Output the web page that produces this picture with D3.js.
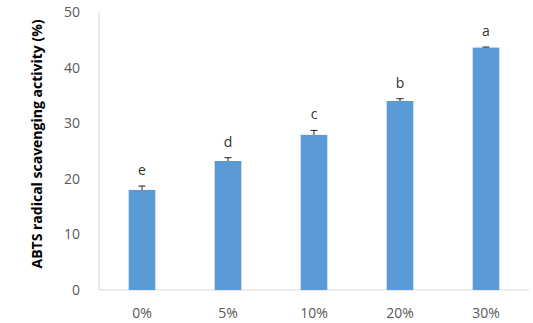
<!DOCTYPE html>
<html>
<head>
<meta charset="utf-8">
<script src="https://cdn.jsdelivr.net/npm/d3@7"></script>
<style>
  body { margin: 0; background: #fff; }
  text { font-family: "Open Sans", sans-serif; }
</style>
</head>
<body>
<div id="chart"></div>
<script>
var categories = ['0%', '5%', '10%', '20%', '30%'];
var values = [18.0, 23.2, 27.9, 34.0, 43.6];
var errors = [0.7, 0.6, 0.8, 0.4, 0.1];
var letters = ['e', 'd', 'c', 'b', 'a'];
var yTicks = [0, 10, 20, 30, 40, 50];

var width = 533, height = 323;
var margin = { top: 12, right: 4, bottom: 33, left: 99 };

var svg = d3.select('#chart').append('svg')
    .attr('width', width)
    .attr('height', height);

var x = d3.scaleBand()
    .domain(categories)
    .range([margin.left, width - margin.right])
    .paddingInner(0.69)
    .paddingOuter(0.345);

var y = d3.scaleLinear()
    .domain([0, 50])
    .range([height - margin.bottom, margin.top]);

// axis lines
svg.append('line')
    .attr('x1', margin.left).attr('x2', margin.left)
    .attr('y1', y(50)).attr('y2', y(0))
    .attr('stroke', '#d9d9d9').attr('stroke-width', 1);

svg.append('line')
    .attr('x1', margin.left).attr('x2', width - margin.right)
    .attr('y1', y(0)).attr('y2', y(0))
    .attr('stroke', '#d9d9d9').attr('stroke-width', 1);

// y tick labels
svg.selectAll('.ytick')
    .data(yTicks)
    .enter().append('text')
    .attr('class', 'ytick')
    .attr('x', 80)
    .attr('y', function(d) { return y(d); })
    .attr('dy', '0.35em')
    .attr('text-anchor', 'end')
    .style('font-size', '14px')
    .style('fill', '#595959')
    .text(function(d) { return d; });

// x tick labels
svg.selectAll('.xtick')
    .data(categories)
    .enter().append('text')
    .attr('class', 'xtick')
    .attr('x', function(d) { return x(d) + x.bandwidth() / 2; })
    .attr('y', y(0) + 23)
    .attr('dy', '0.35em')
    .attr('text-anchor', 'middle')
    .style('font-size', '14px')
    .style('fill', '#595959')
    .text(function(d) { return d; });

// y axis title
svg.append('text')
    .attr('transform', 'translate(42,' + 144 + ') rotate(-90)')
    .attr('text-anchor', 'middle')
    .style('font-size', '14px')
    .style('font-weight', 'bold')
    .style('fill', '#000')
    .text('ABTS radical scavenging activity (%)');

var data = categories.map(function(c, i) {
    return { cat: c, value: values[i], err: errors[i], letter: letters[i] };
});

// bars
svg.selectAll('.bar')
    .data(data)
    .enter().append('rect')
    .attr('class', 'bar')
    .attr('x', function(d) { return x(d.cat); })
    .attr('width', x.bandwidth())
    .attr('y', function(d) { return y(d.value); })
    .attr('height', function(d) { return y(0) - y(d.value); })
    .attr('fill', '#5b9bd5');

// error bars (upper only)
var err = svg.selectAll('.err')
    .data(data)
    .enter().append('g')
    .attr('class', 'err');

err.append('line')
    .attr('x1', function(d) { return x(d.cat) + x.bandwidth() / 2; })
    .attr('x2', function(d) { return x(d.cat) + x.bandwidth() / 2; })
    .attr('y1', function(d) { return y(d.value); })
    .attr('y2', function(d) { return y(d.value + d.err); })
    .attr('stroke', '#222').attr('stroke-width', 1);

err.append('line')
    .attr('x1', function(d) { return x(d.cat) + x.bandwidth() / 2 - 3.5; })
    .attr('x2', function(d) { return x(d.cat) + x.bandwidth() / 2 + 3.5; })
    .attr('y1', function(d) { return y(d.value + d.err); })
    .attr('y2', function(d) { return y(d.value + d.err); })
    .attr('stroke', '#222').attr('stroke-width', 1);

// significance letters
svg.selectAll('.letter')
    .data(data)
    .enter().append('text')
    .attr('class', 'letter')
    .attr('x', function(d) { return x(d.cat) + x.bandwidth() / 2; })
    .attr('y', function(d) { return y(d.value + d.err) - 11; })
    .attr('text-anchor', 'middle')
    .style('font-size', '14px')
    .style('fill', '#333')
    .text(function(d) { return d.letter; });
</script>
</body>
</html>
